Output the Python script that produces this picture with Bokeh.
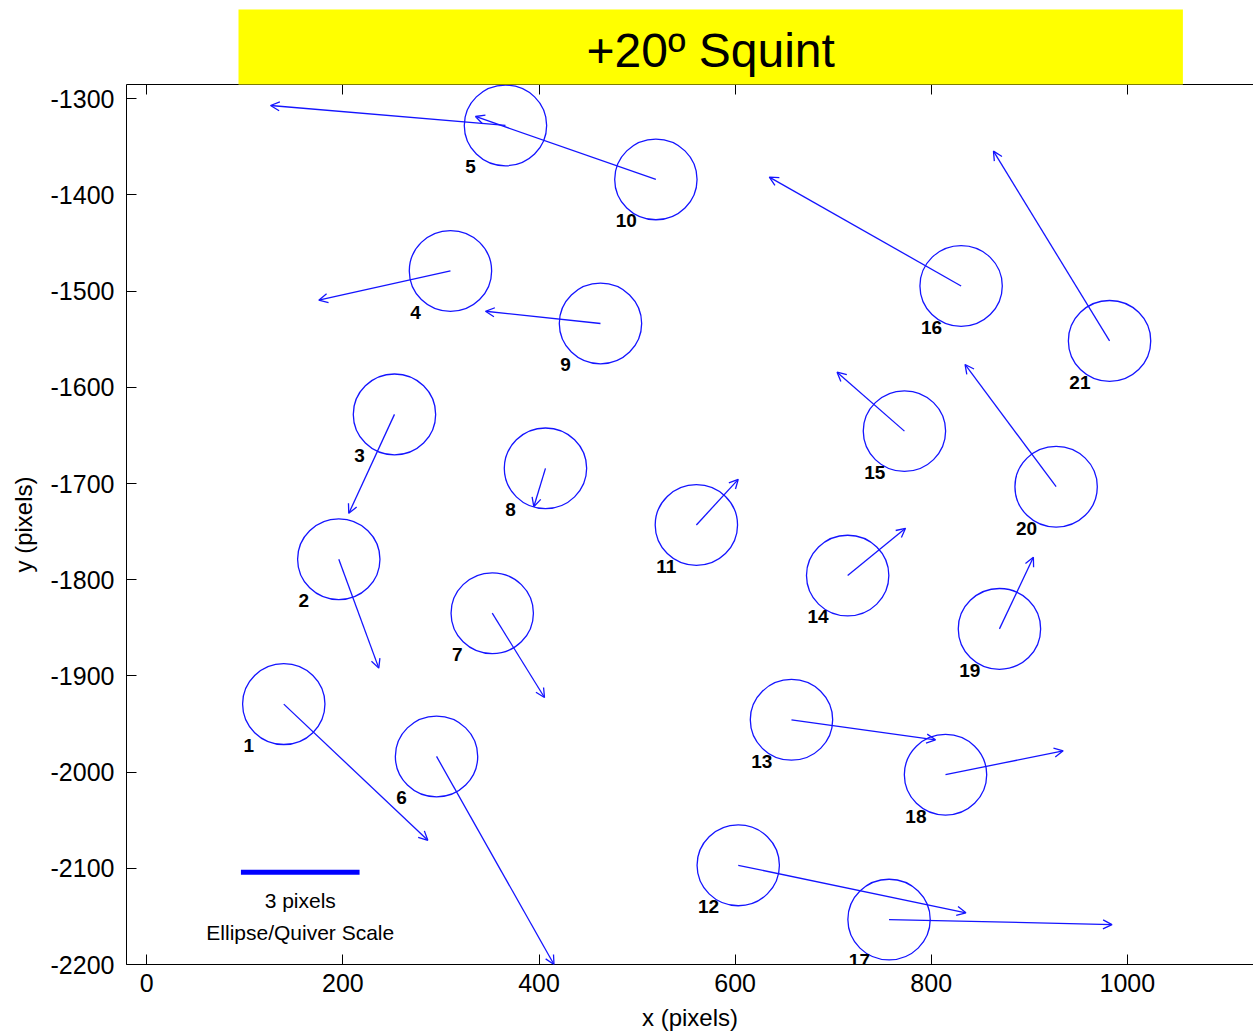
from bokeh.plotting import figure
from bokeh.models import (ColumnDataSource, Arrow, OpenHead, LinearAxis, FixedTicker, Range1d)
from bokeh.core.properties import value
from bokeh.embed import file_html
from bokeh.resources import INLINE

# ---------------- data ----------------
point_id = [str(i) for i in range(1, 22)]
x_pos = [139.7, 195.8, 252.6, 309.7, 365.8, 295.5, 352.3, 406.6, 462.7, 519.2, 560.5,
         603.2, 657.5, 714.8, 772.7, 830.5, 757.0, 814.6, 869.6, 927.4, 981.9]
y_pos = [-1929.3, -1778.7, -1628.1, -1479.0, -1327.7, -1983.7, -1834.8, -1684.2, -1533.6,
         -1383.8, -1743.1, -2096.9, -1945.6, -1795.7, -1645.5, -1494.6, -2153.3, -2002.7,
         -1851.1, -1703.3, -1551.7]
dx = [146.9, 40.8, -46.6, -134.3, -239.6, 119.8, 53.3, -11.9, -117.3, -184.0, 42.7,
      232.2, 146.9, 59.0, -68.7, -195.6, 227.4, 120.0, 34.6, -92.9, -118.4]
dy = [-141.6, -113.2, -102.9, -30.4, 20.7, -216.3, -87.6, -39.9, 12.7, 65.4, 47.5,
      -49.4, -20.8, 49.2, 61.3, 113.2, -5.2, 24.9, 74.5, 127.1, 197.3]
ellipse_w = [84] * 21
ellipse_h = [84] * 21

x_ticks = [0, 200, 400, 600, 800, 1000]
y_ticks = [-2200, -2100, -2000, -1900, -1800, -1700, -1600, -1500, -1400, -1300]

scale_bar_x = [96, 217]
scale_bar_y = -2104
scale_text = ["3 pixels", "Ellipse/Quiver Scale"]
scale_text_y = [-2133.5, -2167]

title_text = "+20\u00ba Squint"

# ---------------- figure ----------------
FONT = "Liberation Sans"
BLUE = "#1414ff"

p = figure(width=1253, height=1033,
           x_range=Range1d(-20.7, 1128.7), y_range=Range1d(-2200, -1285.15),
           output_backend="svg", toolbar_location=None,
           min_border_left=126, min_border_right=0, min_border_top=84, min_border_bottom=68,
           outline_line_color=None, background_fill_color="white", border_fill_color="white")
p.grid.visible = False

for ax, ticks in ((p.xaxis[0], x_ticks), (p.yaxis[0], y_ticks)):
    ax.ticker = FixedTicker(ticks=ticks)
    ax.major_label_overrides = {t: str(t) for t in ticks}
    ax.major_tick_in = 10
    ax.major_tick_out = 0
    ax.minor_tick_line_color = None
    ax.axis_line_color = "black"
    ax.major_tick_line_color = "black"
    ax.major_label_text_font = FONT
    ax.major_label_text_font_size = "25px"
    ax.major_label_text_color = "black"
    ax.axis_label_text_font = FONT
    ax.axis_label_text_font_style = "normal"
    ax.axis_label_text_color = "black"
    ax.axis_label_text_font_size = "24px"

p.xaxis[0].axis_label = "x (pixels)"
p.xaxis[0].major_label_standoff = 9
p.xaxis[0].axis_label_standoff = 9
p.yaxis[0].axis_label = "y (pixels)"
p.yaxis[0].major_label_standoff = 12
p.yaxis[0].axis_label_standoff = 11

top_axis = LinearAxis(ticker=FixedTicker(ticks=x_ticks), major_tick_in=10, major_tick_out=0,
                      minor_tick_line_color=None, major_label_text_alpha=0,
                      major_label_text_font_size="0px", major_label_standoff=0,
                      axis_line_color="black")
p.add_layout(top_axis, "above")

# title in a yellow box
p.title.text = title_text
p.title.align = "left"
p.title.offset = 112
p.title.standoff = 0
p.title.text_font = FONT
p.title.text_font_style = "normal"
p.title.text_font_size = "48px"
p.title.text_color = "black"
p.title.background_fill_color = "#ffff00"
p.title.padding = dict(left=348, right=348, top=14, bottom=8)

# ellipses, quiver arrows, numbers
src = ColumnDataSource(dict(
    x=x_pos, y=y_pos, w=ellipse_w, h=ellipse_h,
    xe=[a + b for a, b in zip(x_pos, dx)], ye=[a + b for a, b in zip(y_pos, dy)],
    lx=[a - 41 for a in x_pos], ly=[a - 43 for a in y_pos], t=point_id))

p.ellipse(x="x", y="y", width="w", height="h", source=src, fill_color=None,
          line_color=BLUE, line_width=1.3)

p.add_layout(Arrow(x_start="x", y_start="y", x_end="xe", y_end="ye", source=src,
                   line_color=BLUE, line_width=1.3,
                   end=OpenHead(size=9, line_color=BLUE, line_width=1.3)))

p.text(x="lx", y="ly", text="t", source=src, text_font=value(FONT), text_font_size="19px",
       text_font_style="bold", text_align="left", text_baseline="middle", text_color="black")

# scale bar
p.line(x=scale_bar_x, y=[scale_bar_y] * 2, line_color="#0000ff", line_width=5)
p.text(x=[sum(scale_bar_x) / 2] * 2, y=scale_text_y, text=scale_text, text_font=value(FONT),
       text_font_size="21px", text_align="center", text_baseline="middle", text_color="black")

open("out.html", "w").write(file_html(p, INLINE))
